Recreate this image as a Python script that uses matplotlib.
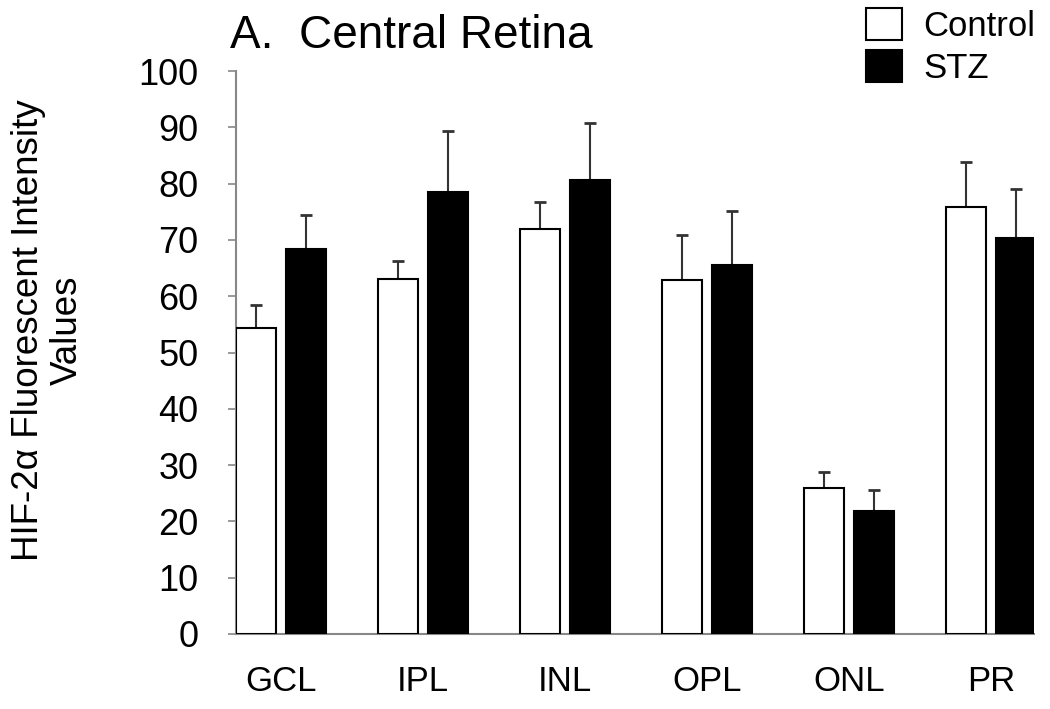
import numpy as np
import matplotlib
matplotlib.use("Agg")
import matplotlib.pyplot as plt
from matplotlib.patches import Patch

# Layer names and values (mean, upper SEM)
layers = ["GCL", "IPL", "INL", "OPL", "ONL", "PR"]
control_mean = [54.4, 63.1, 72.0, 62.8, 26.0, 75.8]
control_err = [4.1, 3.2, 4.8, 8.0, 2.7, 8.1]
stz_mean = [68.4, 78.5, 80.7, 65.5, 21.8, 70.4]
stz_err = [6.1, 10.8, 10.0, 9.6, 3.8, 8.6]
y_ticks = [0, 10, 20, 30, 40, 50, 60, 70, 80, 90, 100]

plt.rcParams['font.family'] = ['Liberation Sans', 'DejaVu Sans']

fig = plt.figure(figsize=(10.5, 7.09), dpi=100)
ax = fig.add_axes([0.2248, 0.1058, 0.76, 0.794])

x = np.arange(len(layers))
width = 0.28
offset = 0.174

ax.bar(x - offset, control_mean, width, color='white', edgecolor='black',
       linewidth=1.5, zorder=3)
ax.bar(x + offset, stz_mean, width, color='black', edgecolor='black',
       linewidth=1.5, zorder=3)

# upper error bars only
zeros = np.zeros(len(layers))
ax.errorbar(x - offset, control_mean, yerr=[zeros, control_err],
            fmt='none', ecolor='#333333', elinewidth=1.5, capsize=4, capthick=2, zorder=2)
ax.errorbar(x + offset, stz_mean, yerr=[zeros, stz_err],
            fmt='none', ecolor='#333333', elinewidth=1.5, capsize=4, capthick=2, zorder=2)

ax.set_xlim(-0.317, 5.303)
ax.set_ylim(0, 100)
ax.set_yticks(y_ticks)
ax.set_yticklabels([str(v) for v in y_ticks], fontsize=26)
ax.set_xticks(x)
ax.set_xticklabels(layers, fontsize=25)

ax.tick_params(axis='y', direction='out', length=6, width=1.2, color='#888888', pad=21)
ax.tick_params(axis='x', length=0, pad=22)

for side in ['top', 'right']:
    ax.spines[side].set_visible(False)
for side in ['left', 'bottom']:
    ax.spines[side].set_color('#888888')
    ax.spines[side].set_linewidth(1.5)

# two-line y label, placed in figure pixels
fig.text(48 / 1050, 1 - 330 / 709, "HIF-2α Fluorescent Intensity\nValues", fontsize=26.5,
         rotation=90, ha='center', va='center', multialignment='center', linespacing=1.15)

fig.text(230 / 1050, 1 - 48 / 709, "A.  Central Retina", fontsize=33, ha='left', va='baseline')

handles = [Patch(facecolor='white', edgecolor='black', linewidth=1.5),
           Patch(facecolor='black', edgecolor='black', linewidth=1.5)]
fig.legend(handles, ["Control", "STZ"], loc='upper left',
           bbox_to_anchor=(866 / 1050, 1 - 8 / 709), frameon=False, fontsize=25,
           handlelength=1.04, handleheight=1.04, handletextpad=0.6, labelspacing=0.2,
           borderpad=0, borderaxespad=0)

fig.savefig("out.png", dpi=100)
